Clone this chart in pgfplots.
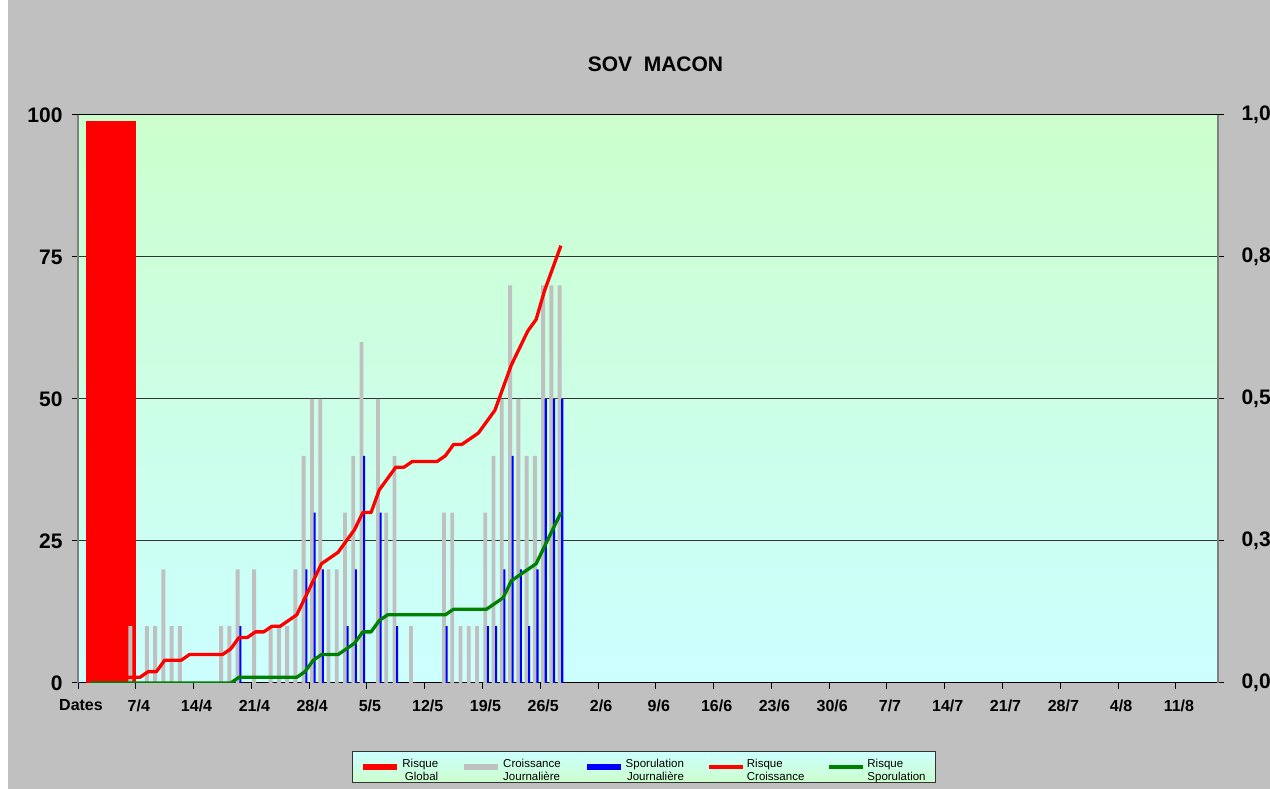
\documentclass[border=0pt]{standalone}
\usepackage{pgfplots}
\pgfplotsset{compat=1.18}
\usepackage{fontspec}
\setmainfont{Liberation Sans}
\definecolor{figgray}{HTML}{C0C0C0}
\definecolor{bargray}{HTML}{C0C0C0}
\definecolor{pgreen}{HTML}{CCFFCC}
\definecolor{pcyan}{HTML}{CCFFFF}
\definecolor{lgreen}{HTML}{008000}
\definecolor{spine}{HTML}{808080}
\begin{document}
\begin{tikzpicture}[x=1pt,y=1pt]
\path[use as bounding box] (0,0) rectangle (1270,789);
\fill[white] (0,0) rectangle (1270,789);
\fill[figgray] (8,0) rectangle (1270,789);
\node[font=\fontsize{21}{25}\selectfont\bfseries, anchor=base] at (655.5,717.3) {SOV\ \ MACON};
\begin{axis}[
 at={(78pt,106pt)}, anchor=south west,
 scale only axis, width=1140pt, height=568pt,
 xmin=0, xmax=138.1, ymin=0, ymax=100,
 axis background/.style={top color=pgreen, bottom color=pcyan},
 separate axis lines,
 x axis line style={black, line width=1pt},
 y axis line style={spine, line width=1.5pt},
 xtick={0,7,...,133},
 xticklabels={Dates,7/4,14/4,21/4,28/4,5/5,12/5,19/5,26/5,2/6,9/6,16/6,23/6,30/6,7/7,14/7,21/7,28/7,4/8,11/8},
 ytick={0,25,50,75,100},
 yticklabels={0,25,50,75,100},
 xtick pos=left, ytick pos=left,
 tick align=outside, major tick length=6pt,
 tick style={black, line width=1pt},
 ymajorgrids, major grid style={black!80, line width=1pt},
 xticklabel style={font=\fontsize{16}{19}\selectfont\bfseries, xshift=3pt, yshift=-7pt},
 yticklabel style={font=\fontsize{21}{24}\selectfont\bfseries, xshift=-6pt},
 legend columns=5,
 legend style={
   at={(0.4965,-0.1479)}, anchor=center,
   draw=black!80, line width=0.8pt,
   top color=pcyan, bottom color=pgreen,
   font=\fontsize{11.5}{13}\selectfont,
   inner xsep=8pt, inner ysep=5pt,
   /tikz/every even column/.append style={column sep=21pt},
   cells={anchor=west},
 },
]
\addplot[ybar, bar width=6.06, bar shift=0pt, fill=red, draw=none,
  legend image code/.code={\draw[red,line width=6pt](0pt,0pt)--(34pt,0pt);}]
  coordinates {(4.01,99)};
\addlegendentry{\begin{tabular}{@{}r@{}}Risque\\Global\end{tabular}}
\addplot[ybar, bar width=0.47, bar shift=0pt, fill=bargray, draw=none,
  legend image code/.code={\draw[bargray,line width=6pt](0pt,0pt)--(34pt,0pt);}]
  coordinates {(6.34,10) (8.34,10) (9.34,10) (10.34,20) (11.34,10) (12.34,10) (17.34,10) (18.34,10) (19.34,20) (21.34,20) (23.34,10) (24.34,10) (25.34,10) (26.34,20) (27.34,40) (28.34,50) (29.34,50) (30.34,20) (31.34,20) (32.34,30) (33.34,40) (34.34,60) (36.34,50) (37.34,30) (38.34,40) (40.34,10) (44.34,30) (45.34,30) (46.34,10) (47.34,10) (48.34,10) (49.34,30) (50.34,40) (51.34,50) (52.34,70) (53.34,50) (54.34,40) (55.34,40) (56.34,70) (57.34,70) (58.34,70)};
\addlegendentry{\begin{tabular}{@{}l@{}}Croissance\\Journalière\end{tabular}}
\addplot[ybar, bar width=0.25, bar shift=0pt, fill=blue, draw=none,
  legend image code/.code={\draw[blue,line width=6pt](0pt,0pt)--(34pt,0pt);}]
  coordinates {(19.66,10) (27.66,20) (28.66,30) (29.66,20) (32.66,10) (33.66,20) (34.66,40) (36.66,30) (38.66,10) (44.66,10) (49.66,10) (50.66,10) (51.66,20) (52.66,40) (53.66,20) (54.66,10) (55.66,20) (56.66,50) (57.66,50) (58.66,50)};
\addlegendentry{\begin{tabular}{@{}r@{}}Sporulation\\Journalière\end{tabular}}
\addplot[red, line width=3.3pt, line join=round, mark=none,
  legend image code/.code={\draw[red,line width=4pt](0pt,0pt)--(34pt,0pt);}]
  coordinates {(1.5,0)(2.5,0)(3.5,0)(4.5,0.5)(5.5,1)(6.5,1)(7.5,1)(8.5,2)(9.5,2)(10.5,4)(11.5,4)(12.5,4)(13.5,5)(14.5,5)(15.5,5)(16.5,5)(17.5,5)(18.5,6)(19.5,8)(20.5,8)(21.5,9)(22.5,9)(23.5,10)(24.5,10)(25.5,11)(26.5,12)(27.5,15)(28.5,18)(29.5,21)(30.5,22)(31.5,23)(32.5,25)(33.5,27)(34.5,30)(35.5,30)(36.5,34)(37.5,36)(38.5,38)(39.5,38)(40.5,39)(41.5,39)(42.5,39)(43.5,39)(44.5,40)(45.5,42)(46.5,42)(47.5,43)(48.5,44)(49.5,46)(50.5,48)(51.5,52)(52.5,56)(53.5,59)(54.5,62)(55.5,64)(56.5,69)(57.5,73)(58.5,77)};
\addlegendentry{\begin{tabular}{@{}l@{}}Risque\\Croissance\end{tabular}}
\addplot[lgreen, line width=3.3pt, line join=round, mark=none,
  legend image code/.code={\draw[lgreen,line width=4pt](0pt,0pt)--(34pt,0pt);}]
  coordinates {(1.5,0)(2.5,0)(3.5,0)(4.5,0)(5.5,0)(6.5,0)(7.5,0)(8.5,0)(9.5,0)(10.5,0)(11.5,0)(12.5,0)(13.5,0)(14.5,0)(15.5,0)(16.5,0)(17.5,0)(18.5,0)(19.5,1)(20.5,1)(21.5,1)(22.5,1)(23.5,1)(24.5,1)(25.5,1)(26.5,1)(27.5,2)(28.5,4)(29.5,5)(30.5,5)(31.5,5)(32.5,6)(33.5,7)(34.5,9)(35.5,9)(36.5,11)(37.5,12)(38.5,12)(39.5,12)(40.5,12)(41.5,12)(42.5,12)(43.5,12)(44.5,12)(45.5,13)(46.5,13)(47.5,13)(48.5,13)(49.5,13)(50.5,14)(51.5,15)(52.5,18)(53.5,19)(54.5,20)(55.5,21)(56.5,24)(57.5,27)(58.5,30)};
\addlegendentry{\begin{tabular}{@{}l@{}}Risque\\Sporulation\end{tabular}}
\end{axis}
\begin{axis}[
 at={(78pt,106pt)}, anchor=south west,
 scale only axis, width=1140pt, height=568pt,
 xmin=0, xmax=138.1, ymin=0, ymax=100,
 axis x line=none, axis y line*=right,
 y axis line style={spine, line width=1.5pt},
 ytick={0,25,50,75,100},
 yticklabels={{0,0},{0,3},{0,5},{0,8},{1,0}},
 tick align=outside, major tick length=6pt,
 tick style={black, line width=1pt},
 yticklabel style={font=\fontsize{21}{24}\selectfont\bfseries, xshift=14pt},
]
\addplot[draw=none] coordinates {(0,0)};
\end{axis}
\end{tikzpicture}
\end{document}
